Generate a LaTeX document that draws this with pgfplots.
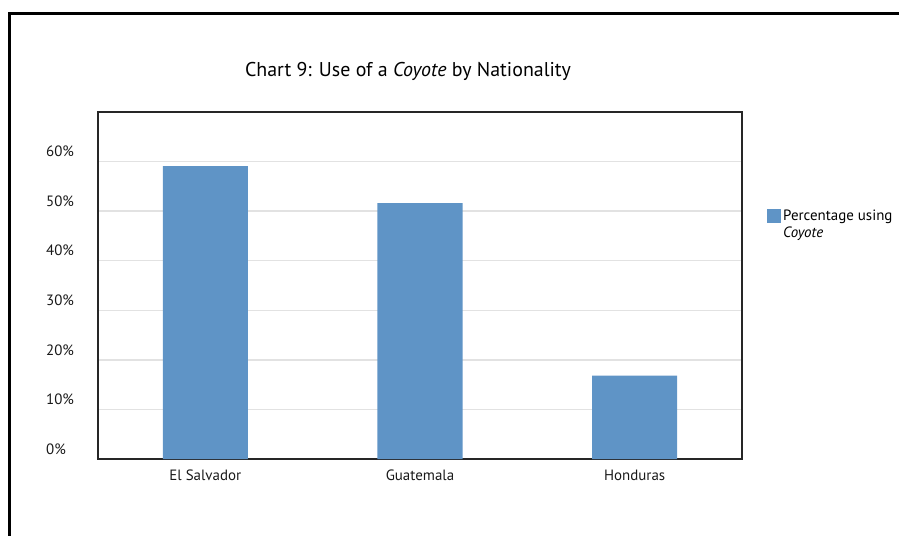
\documentclass[border=0pt]{standalone}
\usepackage{pgfplots}
\pgfplotsset{compat=1.18}
\usepackage{fontspec}
\setmainfont{PT Sans}
\definecolor{barblue}{RGB}{95,148,198}
\definecolor{gridgray}{RGB}{226,226,226}

\begin{document}
\begin{tikzpicture}
% page area and the outer frame
\useasboundingbox (0bp,0bp) rectangle (899bp,-536bp);
\draw[line width=2.6bp, black] (9.5bp,-536bp) -- (9.5bp,-13.5bp) -- (899bp,-13.5bp);

% chart title
\node[anchor=base, font=\fontsize{20}{24}\selectfont] at (408bp,-76bp)
  {Chart 9: Use of a \textit{Coyote} by Nationality};

\begin{axis}[
  at={(98bp,-459bp)}, anchor=south west,
  scale only axis, width=644bp, height=347bp,
  xmin=-0.5, xmax=2.5, ymin=0, ymax=70,
  xtick={0,1,2},
  xticklabels={El Salvador, Guatemala, Honduras},
  ytick={0,10,...,60},
  yticklabels={0\%,10\%,20\%,30\%,40\%,50\%,60\%},
  major tick length=0pt,
  ymajorgrids,
  grid style={draw=gridgray, line width=1.5bp},
  axis line style={draw=black!85, line width=1.3bp},
  tick label style={font=\fontsize{15}{17}\selectfont, text=black!90},
  yticklabel style={anchor=west, inner sep=0pt, xshift=-52bp, yshift=10bp},
  xticklabel style={anchor=north, inner sep=0pt, yshift=-11bp},
  legend style={draw=none, fill=none, inner sep=0pt,
    at={(rel axis cs:1.0388,0.723)}, anchor=north west,
    font=\fontsize{15}{16.5}\selectfont,
    cells={anchor=west, align=left}},
  legend image code/.code={\fill[barblue] (0bp,2bp) rectangle (14bp,16bp);},
]
\addplot[ybar, bar width=0.396, fill=barblue, draw=none]
  coordinates {(0,59.1) (1,51.6) (2,16.8)};
\addlegendentry{Percentage using\\\textit{Coyote}}
\end{axis}
\end{tikzpicture}
\end{document}
